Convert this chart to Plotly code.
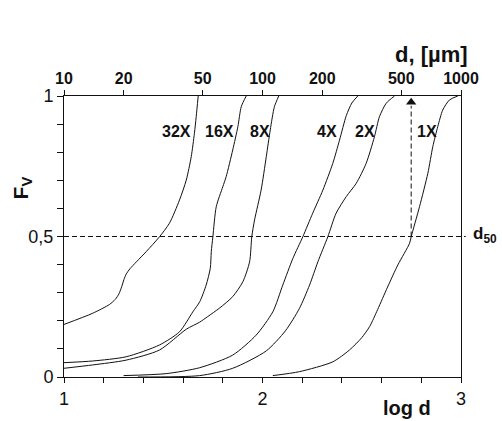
import math
import plotly.graph_objects as go

# ---- data (x = log d, y = F_V) ----
x_32 = [1.000, 1.145, 1.229, 1.258, 1.277, 1.291, 1.302, 1.314, 1.332, 1.365, 1.414, 1.481, 1.531, 1.582, 1.616, 1.641, 1.657, 1.666, 1.676]
f_32 = [0.187, 0.227, 0.258, 0.276, 0.296, 0.322, 0.347, 0.367, 0.385, 0.410, 0.446, 0.499, 0.547, 0.630, 0.701, 0.784, 0.867, 0.926, 1.000]

x_16 = [1.000, 1.145, 1.313, 1.481, 1.582, 1.649, 1.684, 1.716, 1.737, 1.742, 1.750, 1.767, 1.800, 1.817, 1.850, 1.876, 1.893, 1.918]
f_16 = [0.051, 0.057, 0.072, 0.114, 0.161, 0.232, 0.268, 0.327, 0.387, 0.446, 0.499, 0.606, 0.677, 0.713, 0.808, 0.891, 0.962, 1.000]

x_8 = [1.000, 1.145, 1.313, 1.481, 1.616, 1.683, 1.724, 1.783, 1.850, 1.901, 1.935, 1.946, 1.960, 1.993, 2.019, 2.039, 2.060, 2.082]
f_8 = [0.031, 0.043, 0.060, 0.096, 0.170, 0.195, 0.215, 0.245, 0.286, 0.339, 0.410, 0.499, 0.559, 0.665, 0.784, 0.879, 0.962, 1.000]

x_4 = [1.300, 1.515, 1.683, 1.850, 1.968, 2.052, 2.102, 2.153, 2.203, 2.253, 2.304, 2.354, 2.388, 2.422, 2.450, 2.480]
f_4 = [0.005, 0.012, 0.033, 0.078, 0.149, 0.232, 0.327, 0.422, 0.499, 0.583, 0.665, 0.760, 0.843, 0.930, 0.975, 1.000]

x_2 = [1.372, 1.683, 1.850, 2.019, 2.115, 2.186, 2.237, 2.279, 2.329, 2.371, 2.422, 2.472, 2.522, 2.564, 2.589, 2.623, 2.665]
f_2 = [0.000, 0.005, 0.031, 0.093, 0.164, 0.244, 0.327, 0.410, 0.499, 0.583, 0.642, 0.689, 0.760, 0.855, 0.926, 0.974, 1.000]

x_1 = [2.052, 2.186, 2.354, 2.438, 2.500, 2.540, 2.580, 2.630, 2.682, 2.741, 2.749, 2.791, 2.833, 2.858, 2.883, 2.908, 2.942, 2.984]
f_1 = [0.005, 0.019, 0.054, 0.096, 0.140, 0.180, 0.240, 0.320, 0.399, 0.476, 0.499, 0.606, 0.725, 0.820, 0.891, 0.950, 0.986, 1.000]

series = [("32X", x_32, f_32), ("16X", x_16, f_16), ("8X", x_8, f_8),
          ("4X", x_4, f_4), ("2X", x_2, f_2), ("1X", x_1, f_1)]

label_names = ["32X", "16X", "8X", "4X", "2X", "1X"]
label_x = [1.569, 1.783, 1.985, 2.325, 2.514, 2.831]
label_y = 0.875

d50_logd = 2.749
d50_level = 0.5

bottom_ticks = [1, 2, 3]
bottom_text = ["1", "2", "3"]
top_ticks_um = [10, 20, 50, 100, 200, 500, 1000]
y_ticks = [0, 0.5, 1.0]
y_text = ["0", "0,5", "1"]

FONT = "Arial, Liberation Sans, sans-serif"
INK = "#111"

fig = go.Figure()
for name, xs, fs in series:
    fig.add_trace(go.Scatter(x=xs, y=fs, mode="lines", name=name,
                             line=dict(color=INK, width=1, shape="spline", smoothing=0.7),
                             showlegend=False, hoverinfo="skip"))

# invisible trace to bind the top axis
fig.add_trace(go.Scatter(x=[1, 3], y=[0, 0], xaxis="x2", mode="lines",
                         line=dict(width=0), showlegend=False, hoverinfo="skip"))

# arrow head of the d50 arrow
fig.add_trace(go.Scatter(x=[d50_logd], y=[0.978], mode="markers",
                         marker=dict(symbol="triangle-up", size=9, color=INK),
                         showlegend=False, hoverinfo="skip", cliponaxis=False))

for n, lx in zip(label_names, label_x):
    fig.add_annotation(x=lx, y=label_y, xref="x", yref="y", text="<b>%s</b>" % n,
                       showarrow=False, xanchor="center", yanchor="middle",
                       font=dict(family=FONT, size=16, color=INK))

# d50 dashed horizontal line
fig.add_shape(type="line", xref="paper", yref="y", x0=0, x1=1.012, y0=d50_level, y1=d50_level,
              line=dict(color=INK, width=1, dash="5px,3px"))
# vertical dashed line
fig.add_shape(type="line", xref="x", yref="y", x0=d50_logd, x1=d50_logd, y0=d50_level, y1=0.965,
              line=dict(color=INK, width=1, dash="5px,3px"))

fig.add_annotation(x=1.026, y=0.505, xref="paper", yref="paper", xanchor="left", yanchor="middle",
                   text="<b>d<sub>50</sub></b>", showarrow=False,
                   font=dict(family=FONT, size=17, color=INK))
fig.add_annotation(x=-0.107, y=0.673, xref="paper", yref="paper", textangle=-90,
                   xanchor="center", yanchor="middle",
                   text="<b>F<sub>V</sub></b>", showarrow=False,
                   font=dict(family=FONT, size=21, color=INK))
fig.add_annotation(x=0.926, y=1.146, xref="paper", yref="paper",
                   xanchor="center", yanchor="middle",
                   text="<b>d, [µm]</b>", showarrow=False,
                   font=dict(family=FONT, size=22, color=INK))
fig.add_annotation(x=0.865, y=-0.110, xref="paper", yref="paper",
                   xanchor="center", yanchor="middle",
                   text="<b>log d</b>", showarrow=False,
                   font=dict(family=FONT, size=20, color=INK))

fig.update_layout(
    width=502, height=421,
    margin=dict(l=64, r=41, t=96, b=44),
    paper_bgcolor="white", plot_bgcolor="white",
    font=dict(family=FONT, color=INK),
    xaxis=dict(range=[1, 3], showgrid=False, zeroline=False, showline=True,
               linecolor=INK, linewidth=1, ticks="outside", ticklen=5, tickcolor=INK,
               tickvals=bottom_ticks, ticktext=bottom_text,
               minor=dict(ticks="outside", ticklen=5, tickcolor=INK, dtick=0.2, tick0=1, showgrid=False),
               tickfont=dict(size=18, family=FONT, color=INK)),
    xaxis2=dict(range=[1, 3], overlaying="x", side="top", showgrid=False, zeroline=False,
                showline=True, linecolor=INK, linewidth=1, ticks="outside", ticklen=5,
                tickcolor=INK,
                tickvals=[math.log10(v) for v in top_ticks_um],
                ticktext=["<b>%d</b>" % v for v in top_ticks_um],
                tickfont=dict(size=16, family=FONT, color=INK)),
    yaxis=dict(range=[0, 1], showgrid=False, zeroline=False, showline=True, mirror=True,
               linecolor=INK, linewidth=1, ticks="outside", ticklen=6, tickcolor=INK,
               tickvals=y_ticks, ticktext=y_text,
               minor=dict(ticks="outside", ticklen=6, tickcolor=INK, dtick=0.1, tick0=0, showgrid=False),
               tickfont=dict(size=18, family=FONT, color=INK)),
)

fig.write_html("out.html")
